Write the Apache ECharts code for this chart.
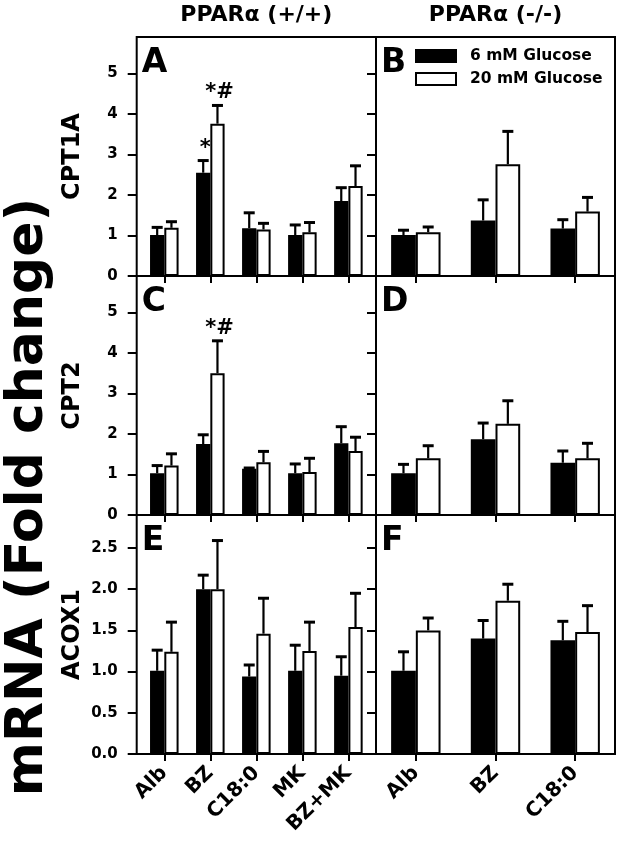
<!DOCTYPE html>
<html><head><meta charset="utf-8">
<script src="https://cdn.jsdelivr.net/npm/echarts@6/dist/echarts.min.js"></script>
<style>html,body{margin:0;padding:0;background:#fff}#c{width:624px;height:846px}</style>
</head><body><div id="c"></div>
<script>
// ---------- data ----------
const catsWT = ['Alb', 'BZ', 'C18:0', 'MK', 'BZ+MK'];
const catsKO = ['Alb', 'BZ', 'C18:0'];
const seriesNames = ['6 mM Glucose', '20 mM Glucose'];
const columnTitles = ['PPARα (+/+)', 'PPARα (-/-)'];
const rowNames = ['CPT1A', 'CPT2', 'ACOX1'];
const panelLetters = ['A', 'B', 'C', 'D', 'E', 'F'];
const bigAxisTitle = 'mRNA (Fold change)';
const ticksCPT = [0, 1, 2, 3, 4, 5];
const ticksACOX = [0, 0.5, 1, 1.5, 2, 2.5];
const maxCPT = 5.9;
const maxACOX = 2.9;

// A: CPT1A, PPARα (+/+)
const cpt1aWT_6 = [1.01, 2.55, 1.18, 1.01, 1.85];
const cpt1aWT_6_err = [0.19, 0.30, 0.38, 0.25, 0.33];
const cpt1aWT_20 = [1.19, 3.76, 1.15, 1.08, 2.22];
const cpt1aWT_20_err = [0.15, 0.45, 0.15, 0.24, 0.50];
const cpt1aWT_6_sig = ['', '*', '', '', ''];
const cpt1aWT_20_sig = ['', '*#', '', '', ''];
// B: CPT1A, PPARα (-/-)
const cpt1aKO_6 = [1.01, 1.37, 1.17];
const cpt1aKO_6_err = [0.12, 0.51, 0.22];
const cpt1aKO_20 = [1.08, 2.76, 1.59];
const cpt1aKO_20_err = [0.13, 0.81, 0.35];
// C: CPT2, PPARα (+/+)
const cpt2WT_6 = [1.03, 1.75, 1.14, 1.03, 1.77];
const cpt2WT_6_err = [0.19, 0.23, 0.02, 0.23, 0.41];
const cpt2WT_20 = [1.22, 3.50, 1.30, 1.06, 1.58];
const cpt2WT_20_err = [0.29, 0.80, 0.27, 0.34, 0.34];
const cpt2WT_20_sig = ['', '*#', '', '', ''];
// D: CPT2, PPARα (-/-)
const cpt2KO_6 = [1.03, 1.87, 1.29];
const cpt2KO_6_err = [0.22, 0.40, 0.29];
const cpt2KO_20 = [1.40, 2.25, 1.40];
const cpt2KO_20_err = [0.31, 0.57, 0.37];
// E: ACOX1, PPARα (+/+)
const acox1WT_6 = [1.01, 2.00, 0.94, 1.01, 0.95];
const acox1WT_6_err = [0.25, 0.17, 0.14, 0.31, 0.23];
const acox1WT_20 = [1.24, 2.00, 1.46, 1.25, 1.54];
const acox1WT_20_err = [0.36, 0.59, 0.43, 0.35, 0.41];
// F: ACOX1, PPARα (-/-)
const acox1KO_6 = [1.01, 1.40, 1.38];
const acox1KO_6_err = [0.23, 0.22, 0.23];
const acox1KO_20 = [1.50, 1.86, 1.48];
const acox1KO_20_err = [0.15, 0.20, 0.32];

// ---------- layout ----------
const FF = '"DejaVu Sans", sans-serif';
const X0 = 136.7, XM = 376, X1 = 615;
const ROW_TOP = [37, 276, 515];
const ROW_H = 239;
const INSET = 4.6;
const BAR_FRAC = 0.31;
const CAP = 11;

const panels = [
  {row: 0, col: 0, cats: catsWT, v: [cpt1aWT_6, cpt1aWT_20], e: [cpt1aWT_6_err, cpt1aWT_20_err], s: [cpt1aWT_6_sig, cpt1aWT_20_sig], max: maxCPT, ticks: ticksCPT, dec: 0},
  {row: 0, col: 1, cats: catsKO, v: [cpt1aKO_6, cpt1aKO_20], e: [cpt1aKO_6_err, cpt1aKO_20_err], s: [null, null], max: maxCPT, ticks: ticksCPT, dec: 0},
  {row: 1, col: 0, cats: catsWT, v: [cpt2WT_6, cpt2WT_20], e: [cpt2WT_6_err, cpt2WT_20_err], s: [null, cpt2WT_20_sig], max: maxCPT, ticks: ticksCPT, dec: 0},
  {row: 1, col: 1, cats: catsKO, v: [cpt2KO_6, cpt2KO_20], e: [cpt2KO_6_err, cpt2KO_20_err], s: [null, null], max: maxCPT, ticks: ticksCPT, dec: 0},
  {row: 2, col: 0, cats: catsWT, v: [acox1WT_6, acox1WT_20], e: [acox1WT_6_err, acox1WT_20_err], s: [null, null], max: maxACOX, ticks: ticksACOX, dec: 1},
  {row: 2, col: 1, cats: catsKO, v: [acox1KO_6, acox1KO_20], e: [acox1KO_6_err, acox1KO_20_err], s: [null, null], max: maxACOX, ticks: ticksACOX, dec: 1}
];

const grid = [], xAxis = [], yAxis = [], series = [], graphic = [];
const barStyles = [
  {color: '#000', borderColor: '#000', borderWidth: 1.5},
  {color: '#fff', borderColor: '#000', borderWidth: 2}
];

function errRender(side, sigs) {
  return function (params, api) {
    const i = api.value(0), v = api.value(1), e = api.value(2);
    const band = api.size([1, 0])[0];
    const p0 = api.coord([i, v]);
    const p1 = api.coord([i, v + e]);
    const x = p0[0] + side * band * BAR_FRAC / 2;
    const children = [];
    if (e > 0) {
      children.push({type: 'line', shape: {x1: x, y1: p0[1], x2: x, y2: p1[1]}, style: {stroke: '#000', lineWidth: 2.2}});
      children.push({type: 'line', shape: {x1: x - CAP / 2, y1: p1[1], x2: x + CAP / 2, y2: p1[1]}, style: {stroke: '#000', lineWidth: 3}});
    }
    const sig = sigs ? sigs[params.dataIndex] : '';
    if (sig) {
      children.push({type: 'text', x: x + 2, y: p1[1] - 2, style: {text: sig, align: 'center', verticalAlign: 'bottom', textAlign: 'center', textVerticalAlign: 'bottom', font: 'bold 21px ' + FF, fill: '#000'}});
    }
    return {type: 'group', children: children};
  };
}

panels.forEach(function (p, k) {
  const top = ROW_TOP[p.row];
  const fx = p.col === 0 ? X0 : XM;
  const fw = p.col === 0 ? XM - X0 : X1 - XM;
  const inset = p.col === 0 ? INSET : 0;
  if (inset) {
    const fg = grid.length;
    grid.push({left: fx, top: top, width: fw, height: ROW_H, show: true, borderColor: '#000', borderWidth: 2, backgroundColor: 'transparent'});
    xAxis.push({gridIndex: fg, type: 'value', show: false});
    yAxis.push({gridIndex: fg, type: 'value', show: false});
  }
  const gi = grid.length;
  grid.push({left: fx + inset, top: top, width: fw - 2 * inset, height: ROW_H, show: !inset, borderColor: '#000', borderWidth: 2, backgroundColor: 'transparent'});
  const xi = xAxis.length;
  xAxis.push({
    gridIndex: gi, type: 'category', data: p.cats,
    axisLine: {show: false},
    axisTick: {show: true, alignWithLabel: true, interval: 0, length: 7, lineStyle: {color: '#000', width: 2}},
    axisLabel: {show: p.row === 2, rotate: 45, interval: 0, margin: 16, color: '#000', fontFamily: FF, fontWeight: 'bold', fontSize: 20},
    splitLine: {show: false}
  });
  const yi = yAxis.length;
  yAxis.push({
    gridIndex: gi, type: 'value', min: 0, max: p.max, offset: inset,
    axisLine: {show: false},
    axisTick: {show: true, length: 9, customValues: p.ticks, lineStyle: {color: '#000', width: 2}},
    axisLabel: {show: p.col === 0, customValues: p.ticks, margin: 19, color: '#000', fontFamily: FF, fontWeight: 'bold', fontSize: 15,
      formatter: function (v) { return Number(v).toFixed(p.dec); }},
    splitLine: {show: false},
    name: p.col === 0 ? rowNames[p.row] : '',
    nameLocation: 'middle', nameRotate: 90, nameGap: 52,
    nameTextStyle: {color: '#000', fontFamily: FF, fontWeight: 'bold', fontSize: 24}
  });
  [0, 1].forEach(function (j) {
    series.push({
      type: 'bar', name: seriesNames[j], xAxisIndex: xi, yAxisIndex: yi,
      data: p.v[j], barWidth: (BAR_FRAC * 100) + '%', barGap: '0%',
      itemStyle: barStyles[j], emphasis: {disabled: true}, z: 2
    });
  });
  [0, 1].forEach(function (j) {
    series.push({
      type: 'custom', xAxisIndex: xi, yAxisIndex: yi, z: 3,
      data: p.v[j].map(function (val, i) { return [i, val, p.e[j][i]]; }),
      renderItem: errRender(j === 0 ? -1 : 1, p.s[j])
    });
  });
  graphic.push({type: 'text', left: fx + 5, top: top + 10, z: 10,
    style: {text: panelLetters[k], font: 'bold 33px ' + FF, fill: '#000'}});
});

columnTitles.forEach(function (t, c) {
  const cx = c === 0 ? (X0 + XM) / 2 : (XM + X1) / 2;
  graphic.push({type: 'text', x: cx, y: 15, z: 10,
    style: {text: t, font: 'bold 22px ' + FF, fill: '#000', align: 'center', verticalAlign: 'middle', textAlign: 'center', textVerticalAlign: 'middle'}});
});
graphic.push({type: 'text', x: 28, y: 497, rotation: Math.PI / 2, z: 10,
  style: {text: bigAxisTitle, font: 'bold 52px ' + FF, fill: '#000', align: 'center', verticalAlign: 'middle', textAlign: 'center', textVerticalAlign: 'middle'}});

const chart = echarts.init(document.getElementById('c'), null, {renderer: 'canvas'});
chart.setOption({
  animation: false,
  backgroundColor: '#fff',
  grid: grid, xAxis: xAxis, yAxis: yAxis, series: series, graphic: graphic,
  legend: {
    data: seriesNames, orient: 'vertical', left: 410, top: 42,
    icon: 'rect', itemWidth: 40, itemHeight: 12, itemGap: 5,
    textStyle: {color: '#000', fontFamily: FF, fontWeight: 'bold', fontSize: 15.5, lineHeight: 18, padding: [0, 0, 0, 9]},
    selectedMode: false
  }
});
</script></body></html>
